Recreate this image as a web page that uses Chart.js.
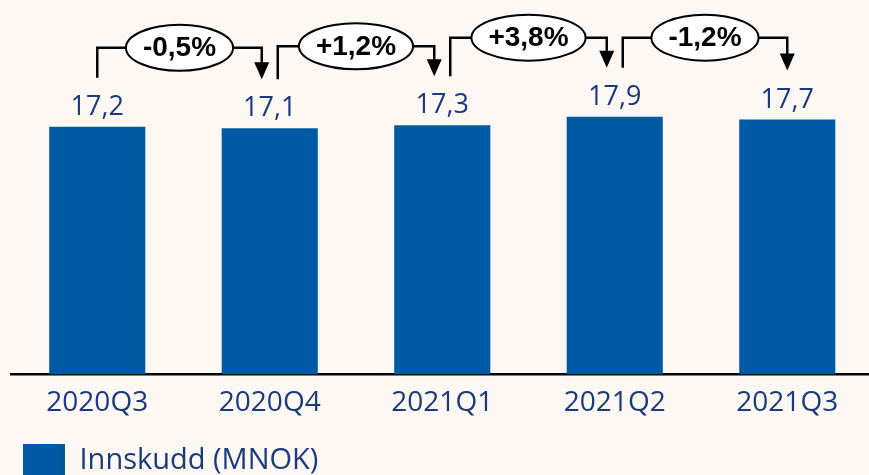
<!DOCTYPE html>
<html>
<head>
<meta charset="utf-8">
<script src="https://cdn.jsdelivr.net/npm/chart.js@4/dist/chart.umd.min.js"></script>
<style>
  html, body { margin: 0; padding: 0; background: #fdf8f4; }
  .clip { width: 869px; height: 475px; overflow: hidden; position: relative; }
  .wrap { width: 880px; height: 487px; position: absolute; left: 0; top: 0; }
</style>
</head>
<body>
<div class="clip">
  <div class="wrap"><canvas id="chart"></canvas></div>
</div>
<script>
const quarters = ['2020Q3', '2020Q4', '2021Q1', '2021Q2', '2021Q3'];
const deposits = [17.2, 17.1, 17.3, 17.9, 17.7];
const changes = ['-0,5%', '+1,2%', '+3,8%', '-1,2%'];
const seriesName = 'Innskudd (MNOK)';

const BLUE = '#005aa3';
const TEXT = '#1b3a7c';
const FONT = '"Open Sans"';

const fmt = v => v.toFixed(1).replace('.', ',');

// value labels + change brackets on top of the bars
const annotations = {
  id: 'annotations',
  afterDatasetsDraw(chart) {
    const ctx = chart.ctx;
    const bars = chart.getDatasetMeta(0).data;
    ctx.save();
    ctx.font = '27px ' + FONT;
    ctx.fillStyle = TEXT;
    ctx.textAlign = 'center';
    ctx.textBaseline = 'alphabetic';
    bars.forEach((b, i) => ctx.fillText(fmt(deposits[i]), b.x, b.y - 12));

    changes.forEach((txt, i) => {
      const a = bars[i], b = bars[i + 1];
      const x0 = a.x + (i === 0 ? 0 : 8);
      const x1 = b.x - (i + 1 === bars.length - 1 ? 0 : 8);
      const y0 = a.y - 49;
      const tip = b.y - 49;
      const level = Math.min(y0, tip) - 30;
      ctx.strokeStyle = '#000';
      ctx.lineWidth = 2.5;
      ctx.beginPath();
      ctx.moveTo(x0, y0);
      ctx.lineTo(x0, level);
      ctx.lineTo(x1, level);
      ctx.lineTo(x1, tip - 15);
      ctx.stroke();
      ctx.fillStyle = '#000';
      ctx.beginPath();
      ctx.moveTo(x1 - 7.5, tip - 17);
      ctx.lineTo(x1 + 7.5, tip - 17);
      ctx.lineTo(x1, tip);
      ctx.closePath();
      ctx.fill();

      ctx.font = 'bold 28px "Liberation Sans"';
      const w = ctx.measureText(txt).width + 34;
      const cx = (x0 + x1) / 2;
      ctx.beginPath();
      ctx.ellipse(cx, level, w / 2, 23, 0, 0, Math.PI * 2);
      ctx.fillStyle = '#fff';
      ctx.fill();
      ctx.lineWidth = 2;
      ctx.stroke();
      ctx.fillStyle = '#000';
      ctx.textBaseline = 'middle';
      ctx.fillText(txt, cx, level + 1);
    });
    ctx.restore();
  }
};

new Chart(document.getElementById('chart'), {
  type: 'bar',
  data: {
    labels: quarters,
    datasets: [{
      label: seriesName,
      data: deposits,
      backgroundColor: BLUE,
      borderWidth: 0,
      barPercentage: 0.557,
      categoryPercentage: 1
    }]
  },
  options: {
    responsive: true, maintainAspectRatio: false,
    animation: false,
    layout: { padding: { left: 11, right: 6.5, top: 0, bottom: 0 } },
    plugins: {
      legend: {
        position: 'bottom', align: 'start',
        labels: {
          color: TEXT, font: { family: FONT, size: 29 },
          boxWidth: 42, boxHeight: 33, padding: 12, useBorderRadius: false
        }
      },
      tooltip: { enabled: false }
    },
    scales: {
      x: {
        grid: { display: false, drawTicks: false },
        border: { color: '#000', width: 2.5 },
        ticks: { color: TEXT, font: { family: FONT, size: 28 }, padding: 12 }
      },
      y: { display: false, min: 0, max: 26 }
    }
  },
  plugins: [annotations]
});
</script>
</body>
</html>
